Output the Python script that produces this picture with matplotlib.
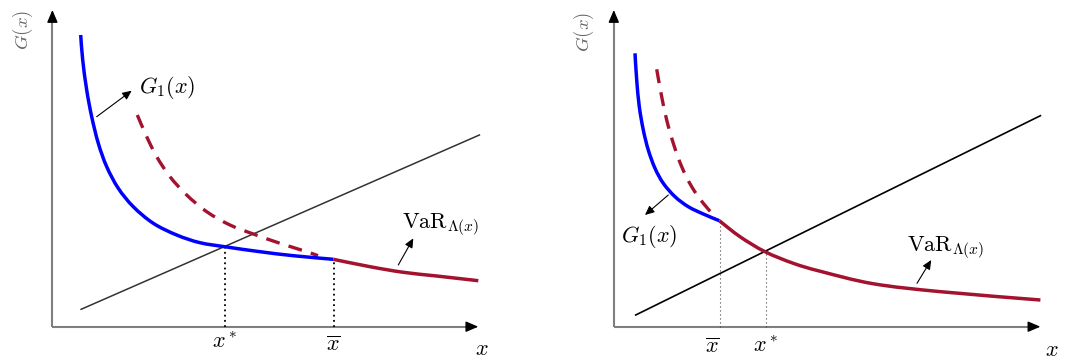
import matplotlib
matplotlib.use("Agg")
import matplotlib.pyplot as plt
from matplotlib.path import Path
from matplotlib.patches import PathPatch

plt.rcParams['mathtext.fontset'] = 'cm'

# ---------------- data (schematic units, origin at the axes crossing) -------------
# Left panel
L_blue_x = [2.83, 3.03, 3.43, 3.93, 4.59, 5.43, 6.59, 8.09, 10.09, 12.43, 14.76, 17.43, 20.76, 24.09, 28.09]
L_blue_y = [29.17, 26.67, 23.67, 21.0, 18.34, 16.0, 13.84, 12.0, 10.34, 9.17, 8.4, 7.97, 7.5, 7.1, 6.74]
L_var_x = [28.09, 31.76, 35.09, 38.43, 42.59]
L_var_y = [6.74, 6.0, 5.44, 5.07, 4.6]
L_dash_x = [8.49, 9.43, 10.43, 11.76, 13.43, 15.43, 17.76, 20.09, 22.76, 25.43, 26.56]
L_dash_y = [21.17, 19.0, 17.0, 15.0, 13.17, 11.5, 10.17, 9.27, 8.34, 7.5, 7.1]
L_line_x = [2.87, 42.7]
L_line_y = [1.74, 19.17]
L_xstar = (17.26, 8.04)
L_xbar = (28.16, 6.74)
L_xtip, L_ytip = 42.59, 31.67

# Right panel
R_blue_x = [2.12, 2.29, 2.55, 2.95, 3.45, 4.12, 4.95, 6.12, 7.45, 8.95, 10.55]
R_blue_y = [27.34, 24.67, 22.0, 19.67, 17.67, 15.84, 14.34, 13.0, 12.0, 11.27, 10.6]
R_var_x = [10.55, 12.62, 15.12, 17.95, 20.62, 25.92, 32.69, 42.66]
R_var_y = [10.6, 9.0, 7.5, 6.34, 5.55, 4.3, 3.5, 2.67]
R_dash_x = [4.29, 4.79, 5.29, 5.95, 6.79, 7.79, 8.95, 10.12]
R_dash_y = [25.74, 23.0, 20.67, 18.34, 16.0, 14.0, 12.34, 11.0]
R_line_x = [2.19, 42.66]
R_line_y = [1.17, 21.1]
R_xbar = (10.62, 10.57)
R_xstar = (15.17, 7.5)
R_xtip, R_ytip = 42.66, 31.67

BLUE = '#0000ff'
RED = '#a3122f'
GRAY = '#7f7f7f'
FS = 16

fig = plt.figure(figsize=(10.65, 3.6), dpi=100)
axL = fig.add_axes([0, 0, 0.5, 1])
axR = fig.add_axes([0.5, 0, 0.5, 1])
axL.set_xlim(-5.24, 48.01)
axR.set_xlim(-8.13, 45.12)
for ax in (axL, axR):
    ax.set_ylim(-3.33, 32.67)
    ax.axis('off')


def smooth_curve(ax, xs, ys, **kw):
    """Draw a smooth (Catmull-Rom style Bezier) curve through the given points."""
    pts = list(zip(xs, ys))
    n = len(pts)
    verts = [pts[0]]
    codes = [Path.MOVETO]
    for i in range(n - 1):
        p0 = pts[i - 1] if i > 0 else pts[i]
        p1 = pts[i]
        p2 = pts[i + 1]
        p3 = pts[i + 2] if i + 2 < n else pts[i + 1]
        c1 = (p1[0] + (p2[0] - p0[0]) / 6.0, p1[1] + (p2[1] - p0[1]) / 6.0)
        c2 = (p2[0] - (p3[0] - p1[0]) / 6.0, p2[1] - (p3[1] - p1[1]) / 6.0)
        verts += [c1, c2, p2]
        codes += [Path.CURVE4] * 3
    patch = PathPatch(Path(verts, codes), facecolor='none', capstyle='butt', **kw)
    ax.add_patch(patch)
    return patch


def axes_arrows(ax, xtip, ytip):
    ax.plot([0, xtip - 0.5], [0, 0], color=GRAY, lw=1.5, solid_capstyle='butt', zorder=2)
    ax.plot([0, 0], [0, ytip - 0.5], color=GRAY, lw=1.5, solid_capstyle='butt', zorder=2)
    st = '-|>,head_length=0.75,head_width=0.32'
    ax.annotate('', xy=(xtip, 0), xytext=(xtip - 1.0, 0),
                arrowprops=dict(arrowstyle=st, color='black', lw=1.0,
                                shrinkA=0, shrinkB=0, mutation_scale=10))
    ax.annotate('', xy=(0, ytip), xytext=(0, ytip - 1.0),
                arrowprops=dict(arrowstyle=st, color='black', lw=1.0,
                                shrinkA=0, shrinkB=0, mutation_scale=10))


def small_arrow(ax, tail, tip):
    ax.annotate('', xy=tip, xytext=tail,
                arrowprops=dict(arrowstyle='-|>,head_length=0.55,head_width=0.25',
                                color='black', lw=0.8, shrinkA=0, shrinkB=0,
                                mutation_scale=10))


# ---------------- left panel ----------------
axes_arrows(axL, L_xtip, L_ytip)
axL.plot(L_line_x, L_line_y, color='#333333', lw=1.1, zorder=3)
smooth_curve(axL, L_dash_x, L_dash_y, edgecolor=RED, lw=2.4, linestyle=(0, (4.2, 2.8)), zorder=4)
smooth_curve(axL, L_blue_x, L_blue_y, edgecolor=BLUE, lw=2.5, zorder=5)
smooth_curve(axL, L_var_x, L_var_y, edgecolor=RED, lw=2.5, zorder=5)
axL.plot([L_xstar[0]] * 2, [0, L_xstar[1]], color='black', lw=1.3, ls=(0, (1, 1.9)), zorder=3)
axL.plot([L_xbar[0]] * 2, [0, L_xbar[1]], color='black', lw=1.3, ls=(0, (1, 1.9)), zorder=3)
axL.text(L_xstar[0], -2.13, r'$x^*$', fontsize=FS, ha='center', va='baseline')
axL.text(28.09, -2.4, r'$\overline{x}$', fontsize=FS, ha='center', va='baseline')
axL.text(42.93, -2.83, r'$x$', fontsize=FS, ha='center', va='baseline')
axL.text(-2.97, 29.67, r'$G(x)$', fontsize=13.5, color='#666666', rotation=90,
         ha='center', va='center')
axL.text(8.69, 23.34, r'$G_1(x)$', fontsize=FS, ha='left', va='baseline')
small_arrow(axL, (4.43, 21.0), (7.93, 23.6))
axL.text(34.93, 9.84, r'$\mathrm{VaR}_{\Lambda(x)}$', fontsize=FS, ha='left', va='baseline')
small_arrow(axL, (34.59, 6.17), (36.09, 8.84))

# ---------------- right panel ----------------
axes_arrows(axR, R_xtip, R_ytip)
axR.plot(R_line_x, R_line_y, color='black', lw=1.2, zorder=3)
smooth_curve(axR, R_dash_x, R_dash_y, edgecolor=RED, lw=2.4, linestyle=(0, (4.2, 2.8)), zorder=4)
smooth_curve(axR, R_blue_x, R_blue_y, edgecolor=BLUE, lw=2.5, zorder=5)
smooth_curve(axR, R_var_x, R_var_y, edgecolor=RED, lw=2.5, zorder=5)
axR.plot([R_xbar[0]] * 2, [0, R_xbar[1]], color='#444444', lw=0.8, ls=(0, (1, 2.6)), zorder=3)
axR.plot([R_xstar[0]] * 2, [0, R_xstar[1]], color='#444444', lw=0.8, ls=(0, (1, 2.6)), zorder=3)
axR.text(9.9, -2.63, r'$\overline{x}$', fontsize=FS, ha='center', va='baseline')
axR.text(15.22, -2.53, r'$x^*$', fontsize=FS, ha='center', va='baseline')
axR.text(43.84, -2.98, r'$x$', fontsize=FS, ha='center', va='baseline')
axR.text(-2.98, 29.5, r'$G(x)$', fontsize=13.5, color='#666666', rotation=90,
         ha='center', va='center')
axR.text(0.69, 8.5, r'$G_1(x)$', fontsize=FS, ha='left', va='baseline')
small_arrow(axR, (5.45, 13.17), (3.12, 11.17))
axR.text(29.31, 7.5, r'$\mathrm{VaR}_{\Lambda(x)}$', fontsize=FS, ha='left', va='baseline')
small_arrow(axR, (30.32, 4.34), (31.74, 6.67))

fig.savefig('out.png', dpi=100)
